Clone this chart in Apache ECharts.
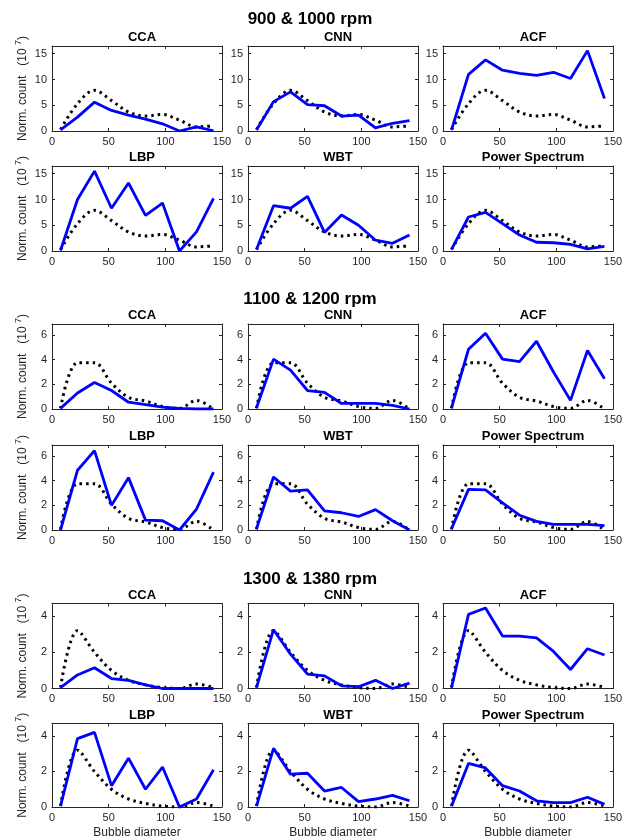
<!DOCTYPE html>
<html>
<head>
<meta charset="utf-8">
<script src="https://cdn.jsdelivr.net/npm/echarts@6/dist/echarts.min.js"></script>
<style>
  html, body { margin: 0; padding: 0; background: #fff; }
  #chart { width: 632px; height: 840px; }
</style>
</head>
<body>
<div id="chart"></div>
<script>
// bin centres of the bubble diameter histogram
const diameters = [7.5, 22.5, 37.5, 52.5, 67.5, 82.5, 97.5, 112.5, 127.5, 142.5];
const methods = ['CCA', 'CNN', 'ACF', 'LBP', 'WBT', 'Power Spectrum'];
const groupTitles = ['900 & 1000 rpm', '1100 & 1200 rpm', '1300 & 1380 rpm'];
const yMaxes = [16.5, 6.9, 4.7];
const yIntervals = [5, 2, 2];

// reference (dotted) distribution per speed group
const ref900 = [0.3, 5.3, 7.9, 5.9, 3.7, 2.9, 3.2, 2.1, 0.8, 1.0];
const ref1100 = [0.05, 3.75, 3.75, 2.1, 0.95, 0.65, 0.2, 0.05, 0.7, 0.0];
const ref1300 = [0.05, 3.2, 2.0, 1.0, 0.45, 0.2, 0.05, 0.0, 0.25, 0.05];

// estimated distributions, one array per method (same order as methods)
const est900 = [
  [0.2, 2.7, 5.6, 4.0, 3.1, 2.3, 1.4, 0.0, 0.8, 0.05],
  [0.2, 5.7, 7.6, 5.1, 4.9, 2.9, 3.1, 0.6, 1.5, 2.0],
  [0.2, 11.0, 13.8, 11.8, 11.2, 10.8, 11.4, 10.2, 15.6, 6.3],
  [0.1, 10.0, 15.5, 8.3, 13.2, 6.9, 9.3, 0.0, 3.7, 10.2],
  [0.3, 8.8, 8.3, 10.6, 3.6, 7.0, 5.0, 2.1, 1.5, 3.1],
  [0.3, 6.6, 7.5, 5.3, 3.1, 1.7, 1.6, 1.3, 0.4, 0.9]
];
const est1100 = [
  [0.05, 1.3, 2.15, 1.5, 0.55, 0.35, 0.15, 0.05, 0.0, 0.0],
  [0.1, 4.05, 3.15, 1.5, 1.35, 0.45, 0.45, 0.45, 0.3, 0.0],
  [0.1, 4.85, 6.15, 4.05, 3.85, 5.5, 3.0, 0.7, 4.75, 2.45],
  [0.0, 4.85, 6.45, 2.0, 4.25, 0.8, 0.75, 0.0, 1.7, 4.7],
  [0.1, 4.3, 3.15, 3.25, 1.55, 1.4, 1.1, 1.65, 0.75, 0.0],
  [0.1, 3.3, 3.25, 2.2, 1.2, 0.7, 0.45, 0.45, 0.45, 0.35]
];
const est1300 = [
  [0.05, 0.75, 1.15, 0.55, 0.45, 0.2, 0.0, 0.0, 0.0, 0.0],
  [0.05, 3.25, 1.9, 0.8, 0.7, 0.15, 0.1, 0.45, 0.0, 0.3],
  [0.05, 4.1, 4.45, 2.9, 2.9, 2.8, 2.05, 1.05, 2.2, 1.85],
  [0.05, 3.85, 4.2, 1.2, 2.75, 1.0, 2.25, 0.0, 0.45, 2.1],
  [0.05, 3.3, 1.85, 1.9, 0.9, 1.1, 0.3, 0.45, 0.65, 0.35],
  [0.05, 2.45, 2.2, 1.2, 0.9, 0.35, 0.25, 0.25, 0.55, 0.15]
];

const refs = [ref900, ref1100, ref1300];
const ests = [est900, est1100, est1300];

// layout (pixels)
const colLefts = [52, 248, 443];
const rowTops = [46, 166, 324, 445, 603.5, 723.5];
const groupTitleY = [16, 296, 576];
const GW = 170, GH = 85;
const ink = '#262626';
const font = 'Liberation Sans, Arial, Helvetica, sans-serif';

const chart = echarts.init(document.getElementById('chart'));

const grids = [], xAxes = [], yAxes = [], series = [], titles = [];

groupTitles.forEach((t, g) => {
  titles.push({
    text: t, left: 305, top: groupTitleY[g] - 10, textAlign: 'center',
    textStyle: { fontFamily: font, fontSize: 17, fontWeight: 'bold', color: '#000' }
  });
});

const tickOpts = { show: true, inside: true, length: 3, lineStyle: { color: ink } };

for (let g = 0; g < 3; g++) {
  for (let m = 0; m < 6; m++) {
    const row = g * 2 + Math.floor(m / 3);
    const col = m % 3;
    const idx = grids.length;
    const left = colLefts[col], top = rowTops[row];
    grids.push({ left: left, top: top, width: GW, height: GH });

    titles.push({
      text: methods[m], left: left + GW / 2, top: top - 20, textAlign: 'center',
      textStyle: { fontFamily: font, fontSize: 13, fontWeight: 'bold', color: '#000' }
    });

    const lastRow = row === 5;
    xAxes.push({
      gridIndex: idx, type: 'value', min: 0, max: 150, interval: 50, position: 'bottom',
      axisLine: { show: true, onZero: false, lineStyle: { color: ink, width: 1 } },
      axisTick: tickOpts,
      splitLine: { show: false },
      axisLabel: { fontFamily: font, fontSize: 11, color: ink, margin: 5 },
      name: lastRow ? 'Bubble diameter' : '',
      nameLocation: 'middle', nameGap: 20, nameMoveOverlap: false,
      nameTextStyle: { fontFamily: font, fontSize: 12, color: ink }
    });
    xAxes.push({
      gridIndex: idx, type: 'value', min: 0, max: 150, interval: 50, position: 'top',
      axisLine: { show: true, onZero: false, lineStyle: { color: ink, width: 1 } },
      axisTick: tickOpts, splitLine: { show: false }, axisLabel: { show: false }
    });
    yAxes.push({
      gridIndex: idx, type: 'value', min: 0, max: yMaxes[g], interval: yIntervals[g], position: 'left',
      axisLine: { show: true, onZero: false, lineStyle: { color: ink, width: 1 } },
      axisTick: tickOpts,
      splitLine: { show: false },
      axisLabel: {
        fontFamily: font, fontSize: 11, color: ink, margin: 5,
        showMaxLabel: false
      },
      name: col === 0 ? 'Norm. count   (10 {sup|7})' : '',
      nameLocation: 'middle', nameGap: 21, nameRotate: 90, nameMoveOverlap: false,
      nameTextStyle: {
        fontFamily: font, fontSize: 12, color: ink,
        rich: { sup: { fontFamily: font, fontSize: 9, color: ink, verticalAlign: 'top', padding: [0, 0, 8, 0] } }
      }
    });
    yAxes.push({
      gridIndex: idx, type: 'value', min: 0, max: yMaxes[g], interval: yIntervals[g], position: 'right',
      axisLine: { show: true, onZero: false, lineStyle: { color: ink, width: 1 } },
      axisTick: tickOpts, splitLine: { show: false }, axisLabel: { show: false }
    });

    series.push({
      type: 'line', xAxisIndex: 2 * idx, yAxisIndex: 2 * idx,
      data: diameters.map((d, k) => [d, refs[g][k]]),
      smooth: 0.35, showSymbol: false, silent: true,
      lineStyle: { color: '#000', width: 3, type: [2.5, 4], cap: 'butt' }
    });
    series.push({
      type: 'line', xAxisIndex: 2 * idx, yAxisIndex: 2 * idx,
      data: diameters.map((d, k) => [d, ests[g][m][k]]),
      showSymbol: false, silent: true,
      lineStyle: { color: '#0000ff', width: 2.8 }
    });
  }
}

chart.setOption({
  animation: false,
  backgroundColor: '#fff',
  title: titles,
  grid: grids,
  xAxis: xAxes,
  yAxis: yAxes,
  series: series
});
</script>
</body>
</html>
